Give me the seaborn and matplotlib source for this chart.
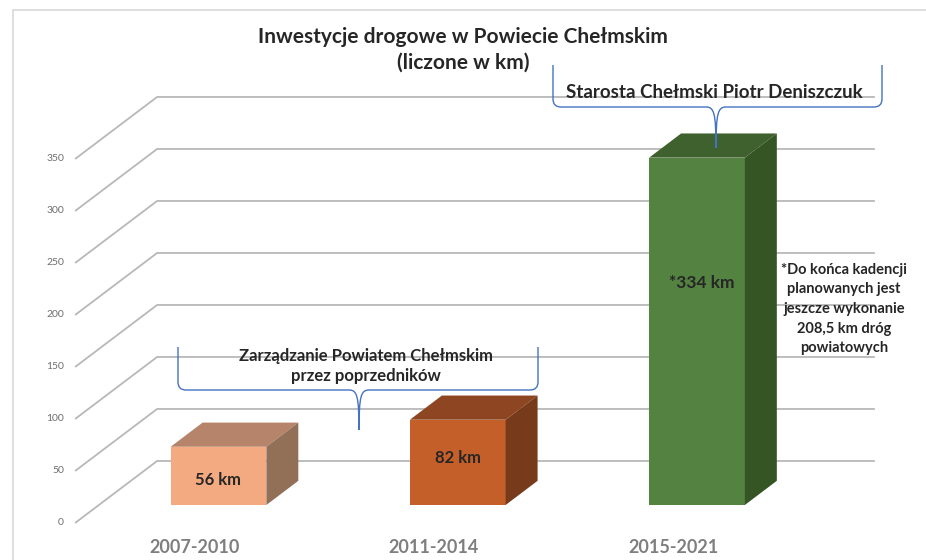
import numpy as np
import matplotlib
matplotlib.use("Agg")
import matplotlib.pyplot as plt
from matplotlib.path import Path
from matplotlib.patches import PathPatch
from matplotlib.lines import Line2D
import seaborn as sns

# data
periods = ["2007-2010", "2011-2014", "2015-2021"]
km = [56, 82, 334]
bar_labels = ["56 km", "82 km", "*334 km"]
ticks = [0, 50, 100, 150, 200, 250, 300, 350]

front_colors = ["#F4AA80", "#C55F29", "#548241"]
top_colors = ["#B5846A", "#8E4521", "#3F612D"]
side_colors = ["#927058", "#773A1B", "#365525"]

title = "Inwestycje drogowe w Powiecie Chełmskim\n(liczone w km)"
note = "*Do końca kadencji\nplanowanych jest\njeszcze wykonanie\n208,5 km dróg\npowiatowych"
brace1_text = "Zarządzanie Powiatem Chełmskim\nprzez poprzedników"
brace2_text = "Starosta Chełmski Piotr Deniszczuk"

W, H = 926, 560

sns.set_theme(style="white")
plt.rcParams["font.family"] = ["Lato", "DejaVu Sans"]

fig = plt.figure(figsize=(W / 100, H / 100), dpi=100)
ax = fig.add_axes([0, 0, 1, 1])

# pseudo 3d geometry: reference plane = front face of the bars
px_per_cat, x0_px = 239.25, 218.5
px_per_val, y0_px = 1.04, 505
DX = 82 / px_per_cat      # floor depth in category units
DY = 62 / px_per_val      # floor depth in value units
D_FRONT = 0.29            # depth of bar front face
D_BAR = 0.39              # depth of the bars


def proj(c, v, d):
    return c + (d - D_FRONT) * DX, v + (d - D_FRONT) * DY


sns.barplot(x=periods, y=km, hue=periods, palette=front_colors, legend=False,
            width=0.40, saturation=1, ax=ax, zorder=3, linewidth=0)

# top and side faces
dx, dy = D_BAR * DX, D_BAR * DY
for p, tc, sc in zip(ax.patches, top_colors, side_colors):
    x, w, h = p.get_x(), p.get_width(), p.get_height()
    ax.fill([x, x + w, x + w + dx, x + dx], [h, h, h + dy, h + dy],
            color=tc, zorder=3, lw=0)
    ax.fill([x + w, x + w + dx, x + w + dx, x + w], [0, dy, h + dy, h],
            color=sc, zorder=3, lw=0)

# gridlines on left wall and back wall
for v in ticks:
    pts = [proj(-0.5, v, 0), proj(-0.5, v, 1), proj(2.5, v, 1)]
    xs, ys = zip(*pts)
    ax.plot(xs, ys, color="#B8B8B8", lw=1.3, zorder=1, solid_capstyle="butt")
    ax.annotate(str(v), proj(-0.5, v, 0), xytext=(-8, 0), textcoords="offset points",
                ha="right", va="center", fontsize=7.5, color="#6E6E6E")

# category labels
for i, lab in enumerate(periods):
    ax.annotate(lab, proj(i, 0, 0), xytext=(0, -18), textcoords="offset points",
                ha="center", va="center", fontsize=13, fontweight="bold",
                color="#7F7F7F")

# value labels on bars
label_frac = [0.43, 0.55, 0.64]
for i, (lab, v, f) in enumerate(zip(bar_labels, km, label_frac)):
    ax.text(i + (0.02 if i == 2 else 0), v * f, lab, ha="center", va="center",
            fontsize=12.5 if i == 2 else 12, fontweight="bold", color="#262626",
            zorder=5)

ax.set_xlim(-x0_px / px_per_cat, (W - x0_px) / px_per_cat)
ax.set_ylim((y0_px - H) / px_per_val, y0_px / px_per_val)
ax.axis("off")


def fy(y):
    return 1 - y / H


def brace(x0, x1, yt, yh, xm, ytip, color="#4472C4"):
    r = 8
    verts = [(x0, yt), (x0, yh - r), (x0, yh), (x0 + r, yh),
             (xm - 10, yh), (xm - 2, yh), (xm, yh + 6), (xm, ytip),
             (xm, yh + 6), (xm + 2, yh), (xm + 10, yh),
             (x1 - r, yh), (x1, yh), (x1, yh - r), (x1, yt)]
    codes = [Path.MOVETO, Path.LINETO, Path.CURVE3, Path.CURVE3,
             Path.LINETO, Path.CURVE4, Path.CURVE4, Path.CURVE4,
             Path.CURVE4, Path.CURVE4, Path.CURVE4,
             Path.LINETO, Path.CURVE3, Path.CURVE3, Path.LINETO]
    verts = [(x / W, fy(y)) for x, y in verts]
    fig.add_artist(PathPatch(Path(verts, codes), fill=False, edgecolor=color,
                             lw=1.0, transform=fig.transFigure, zorder=6))


brace(178, 538, 347, 390, 359, 430)
brace(553, 882, 65, 107, 716, 148)

fig.text(366 / W, fy(366), brace1_text, ha="center", va="center", fontsize=12,
         fontweight="bold", color="#262626", linespacing=1.35)
fig.text(714 / W, fy(93), brace2_text, ha="center", va="center", fontsize=13.5,
         fontweight="bold", color="#262626")
fig.text(844 / W, fy(309), note, ha="center", va="center", fontsize=10.5,
         fontweight="bold", color="#262626", linespacing=1.5)
fig.text(0.5, fy(50), title, ha="center", va="center", fontsize=15,
         fontweight="bold", color="#262626", linespacing=1.35)

# outer frame
fig.add_artist(Line2D([13 / W, 13 / W], [0, fy(10)], color="#D9D9D9", lw=1.2,
                      transform=fig.transFigure))
fig.add_artist(Line2D([13 / W, 1], [fy(10), fy(10)], color="#D9D9D9", lw=1.2,
                      transform=fig.transFigure))

fig.savefig("out.png", dpi=100)
